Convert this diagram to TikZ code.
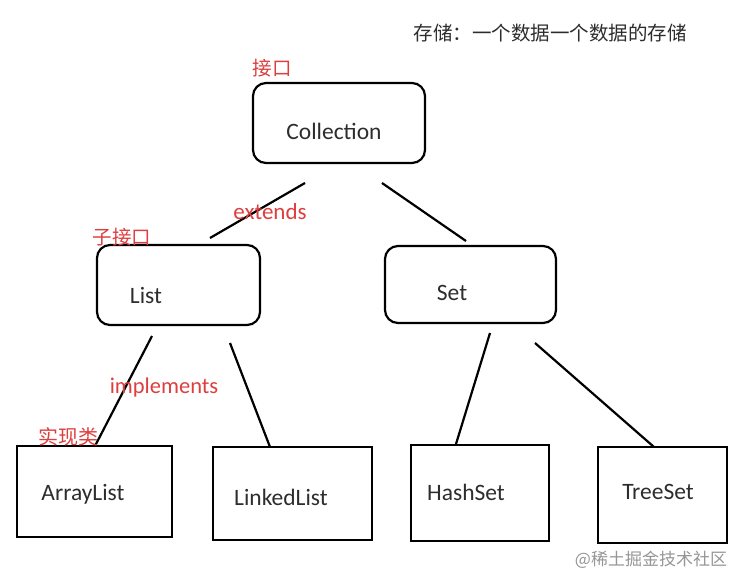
\documentclass[tikz,border=0pt]{standalone}
\usepackage{fontspec}
\setmainfont{Carlito}
\newfontfamily\cjk{Noto Sans CJK SC}
\definecolor{lblred}{RGB}{222,62,62}
\definecolor{txtgray}{RGB}{45,45,45}
\definecolor{wmgray}{RGB}{150,150,150}
\begin{document}
\begin{tikzpicture}[x=1pt,y=-1pt,
  rbox/.style={draw=black,line width=2.2pt,rounded corners=13pt,inner sep=0pt},
  sbox/.style={draw=black,line width=2.2pt,inner sep=0pt},
  word/.style={text=txtgray,font=\fontsize{23.5}{25}\selectfont,inner sep=0pt},
  redlbl/.style={text=lblred,inner sep=0pt},
  link/.style={line width=2.2pt,black}]
\useasboundingbox[fill=white] (0,0) rectangle (738,586);
% boxes
\node[rbox,minimum width=172pt,minimum height=80pt] (coll) at (339,123) {};
\node[rbox,minimum width=163pt,minimum height=80pt] (list) at (178.5,285) {};
\node[rbox,minimum width=171pt,minimum height=77pt] (set) at (470.5,284.5) {};
\node[sbox,minimum width=155pt,minimum height=91pt] (al) at (94.5,491.5) {};
\node[sbox,minimum width=159pt,minimum height=93pt] (ll) at (292.5,493.5) {};
\node[sbox,minimum width=138pt,minimum height=96pt] (hs) at (480,493) {};
\node[sbox,minimum width=129pt,minimum height=96pt] (ts) at (662.5,495) {};
% box texts
\node[word] (tcoll) at (334,131) {Collection};
\node[word] (tlist) at (146,295) {List};
\node[word] (tset) at (452,293) {Set};
\node[word] (tal) at (83,494) {ArrayList};
\node[word] (tll) at (281,497) {LinkedList};
\node[word] (ths) at (466,492) {HashSet};
\node[word] (tts) at (658,492) {TreeSet};
% connector end points
\coordinate (c1a) at (305,183); \coordinate (c1b) at (210,238);
\coordinate (c2a) at (382,183); \coordinate (c2b) at (466,241);
\coordinate (c3a) at (152,336); \coordinate (c3b) at (95,446);
\coordinate (c4a) at (230,343); \coordinate (c4b) at (270,447);
\coordinate (c5a) at (490,333); \coordinate (c5b) at (456,444);
\coordinate (c6a) at (535,343); \coordinate (c6b) at (654,447);
\draw[link] (c1a) -- (c1b);
\draw[link] (c2a) -- (c2b);
\draw[link] (c3a) -- (c3b);
\draw[link] (c4a) -- (c4b);
\draw[link] (c5a) -- (c5b);
\draw[link] (c6a) -- (c6b);
% red labels
\node[redlbl,font=\cjk\fontsize{19.5}{21}\selectfont] (l1) at (272,68) {接口};
\node[redlbl,font=\fontsize{23}{25}\selectfont] (l2) at (270,212) {extends};
\node[redlbl,font=\cjk\fontsize{19.5}{21}\selectfont] (l3) at (122,237) {子接口};
\node[redlbl,font=\fontsize{22.5}{24}\selectfont] (l4) at (164,387) {implements};
\node[redlbl,font=\cjk\fontsize{20}{22}\selectfont] (l5) at (68,437) {实现类};
% top note
\node[inner sep=0pt,text=txtgray,font=\cjk\fontsize{19.5}{21}\selectfont] (note) at (550,33) {存储：一个数据一个数据的存储};
% watermark
\node[inner sep=0pt,text=wmgray,font=\cjk\fontsize{17}{19}\selectfont] (wm) at (651,560) {@稀土掘金技术社区};
\end{tikzpicture}
\end{document}
